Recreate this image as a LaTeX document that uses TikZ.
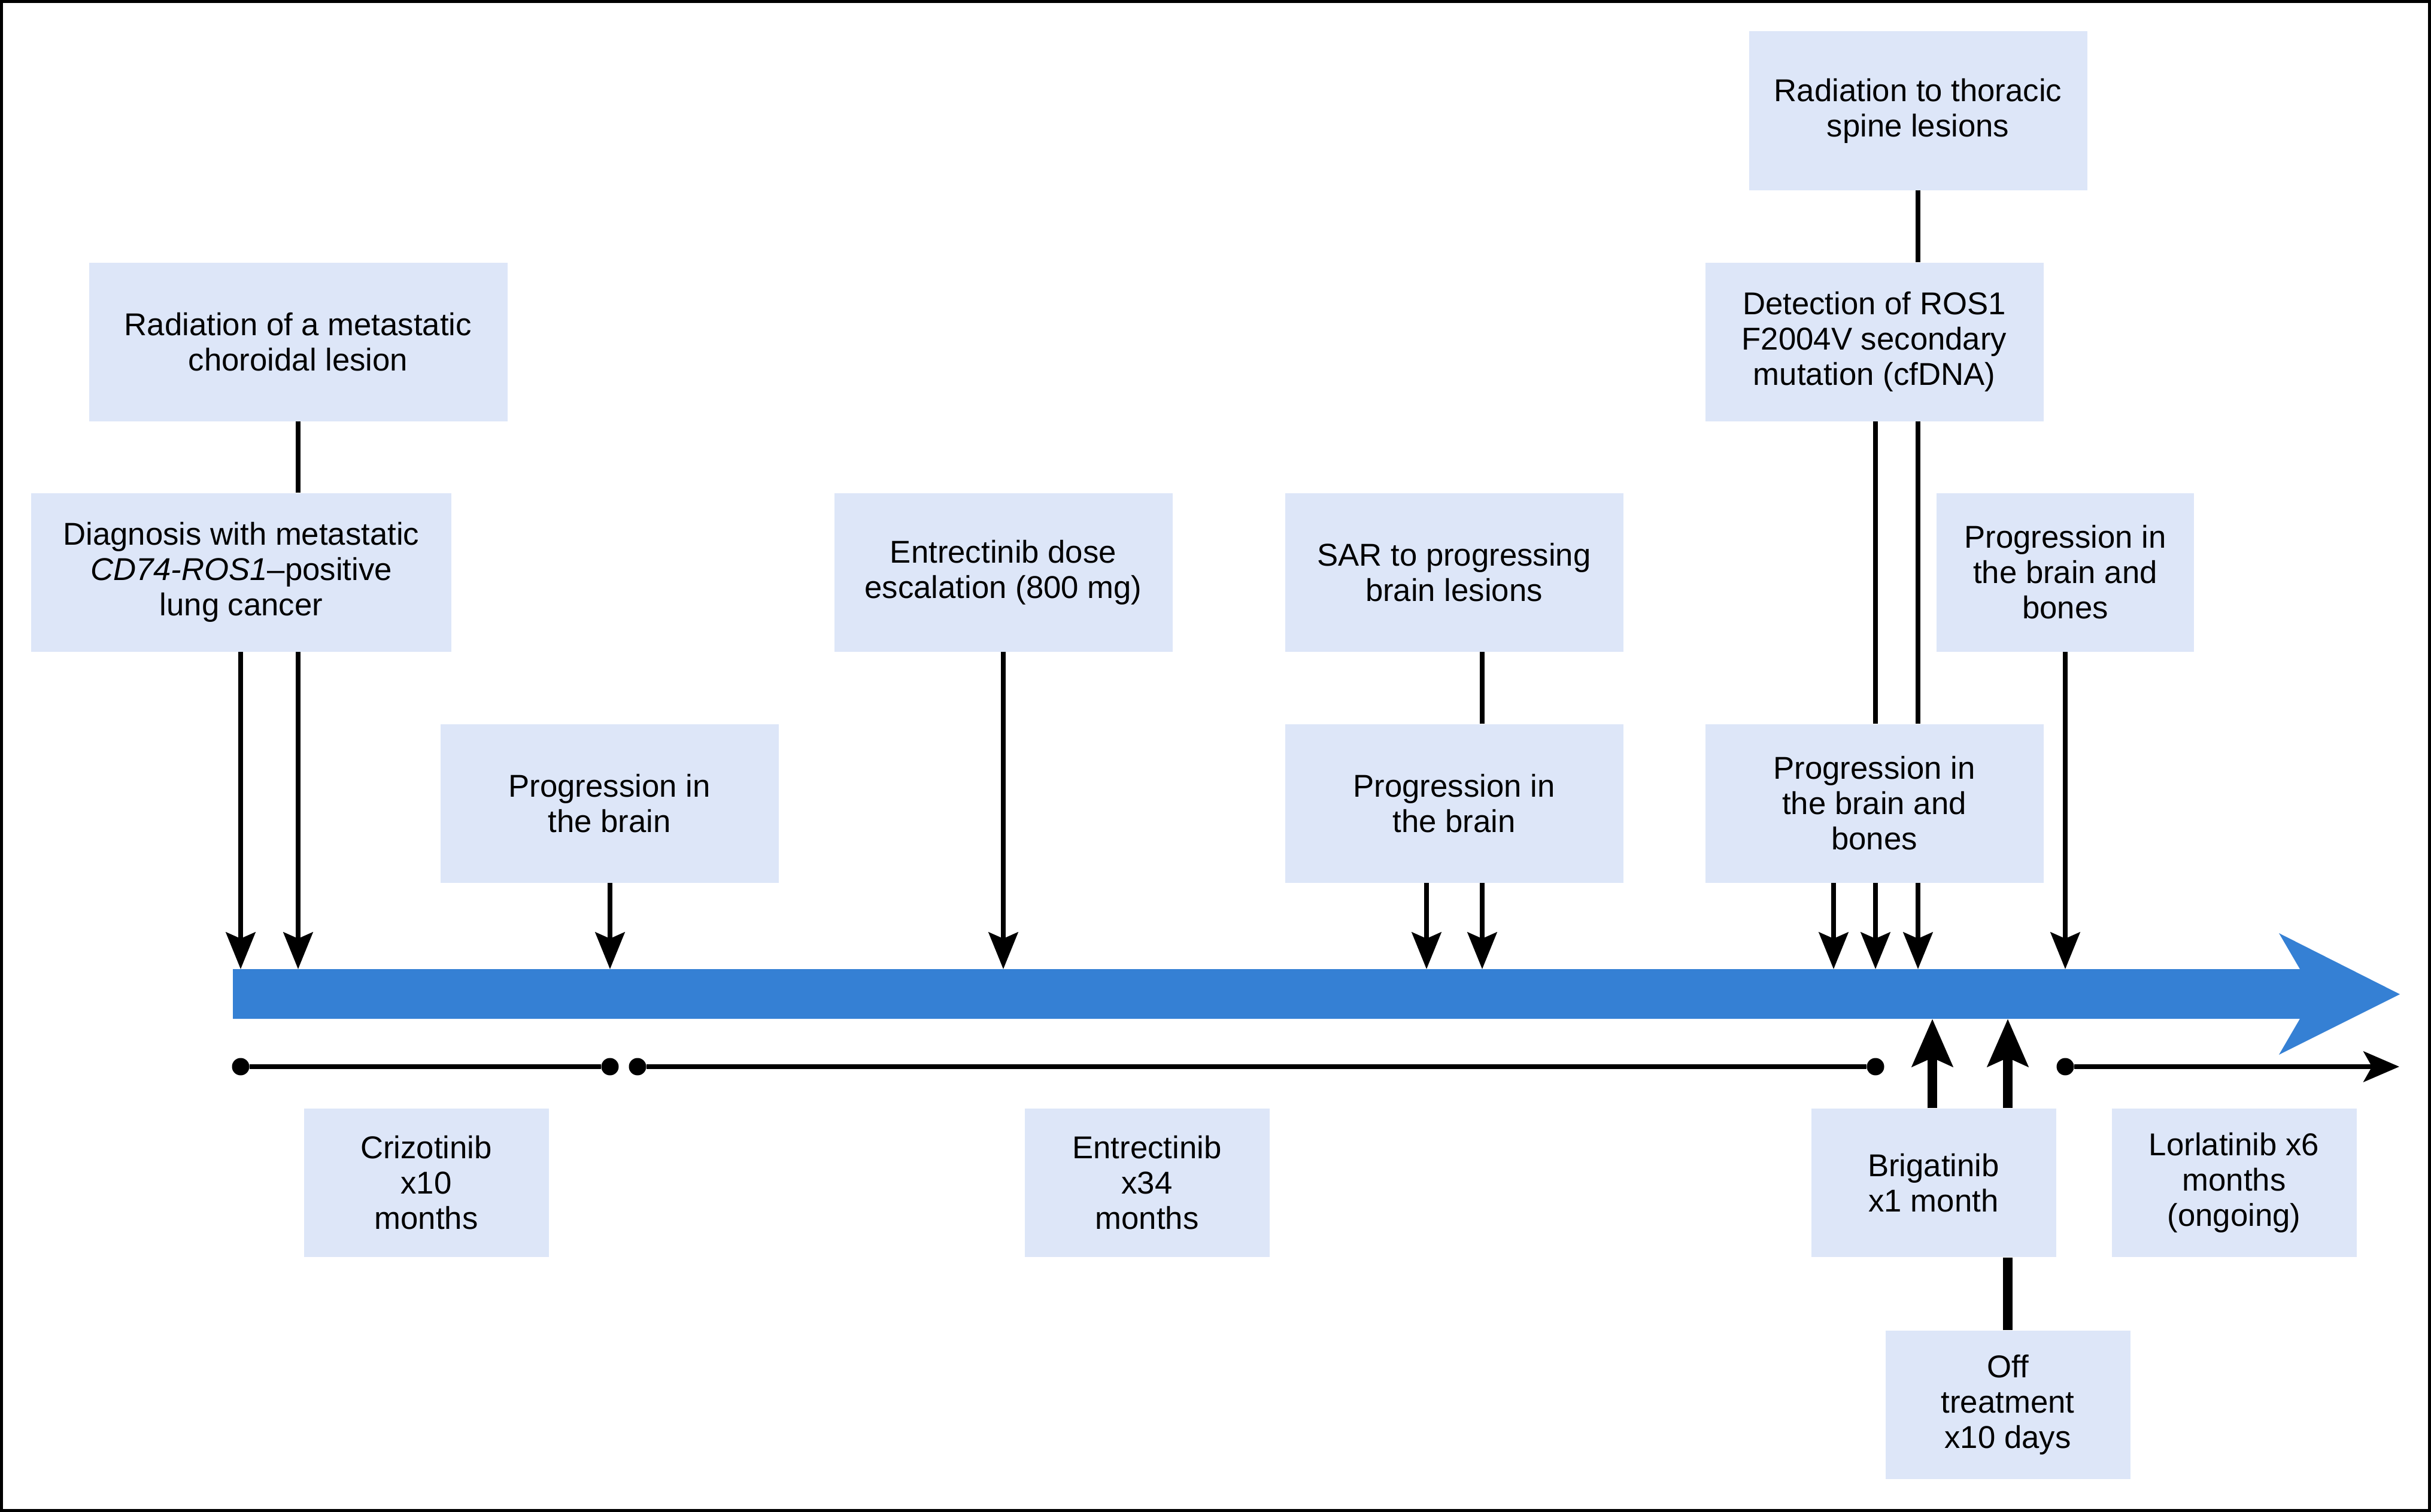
\documentclass[tikz,border=0pt]{standalone}
\usepackage{fontspec}
\setmainfont{Liberation Sans}
\usetikzlibrary{positioning}
\usetikzlibrary{arrows.meta}
\definecolor{boxblue}{RGB}{221,230,248}
\definecolor{barblue}{RGB}{53,128,212}
\tikzset{
    evnode/.style = {rectangle, fill=boxblue, align=center, inner sep=0pt, minimum width=5.65cm, minimum height=2.65cm, font=\fontsize{15}{16.8}\selectfont},
    rxnode/.style = {evnode, minimum width=4.09cm, minimum height=2.48cm},
    dotn/.style = {circle, fill=black, inner sep=0pt, minimum size=0.29cm},
    edgel/.style = {line width=2.1pt},
    edged/.style = {-{Stealth[length=17.5pt,width=14pt,inset=3pt]},line width=2.1pt},
    edgeu/.style = {-{Stealth[length=22.5pt,width=19pt,inset=4pt]},line width=4.8pt},
    edgeub/.style = {line width=4.8pt},
    spann/.style = {line width=2.3pt},
    spanr/.style = {-{Stealth[length=17pt,width=14.5pt,inset=4pt]},line width=2.3pt}
}
\begin{document}
\begin{tikzpicture}[x=1cm,y=-1cm]
\useasboundingbox (0,0) rectangle (40.61,25.26);
\draw[line width=0.05cm] (0.025,0.025) rectangle (40.585,25.235);
%
% time bar
\fill[barblue] (3.89,16.19) -- (38.42,16.19) -- (38.07,15.59) -- (40.09,16.61)
    -- (38.07,17.62) -- (38.42,17.02) -- (3.89,17.02) -- cycle;
%
% events
\node[evnode, minimum width=6.99cm] (rad) at (4.98,5.71) {Radiation of a metastatic\\choroidal lesion};
\node[evnode, minimum width=7.02cm] (diag) at (4.03,9.56) {Diagnosis with metastatic\\\textit{CD74-ROS1}--positive\\lung cancer};
\node[evnode] (brain1) at (10.18,13.42) {Progression in\\the brain};
\node[evnode] (dose) at (16.76,9.56) {Entrectinib dose\\escalation (800 mg)};
\node[evnode] (sar) at (24.29,9.56) {SAR to progressing\\brain lesions};
\node[evnode] (brain2) at (24.29,13.42) {Progression in\\the brain};
\node[evnode] (spine) at (32.04,1.85) {Radiation to thoracic\\spine lesions};
\node[evnode] (ros) at (31.31,5.71) {Detection of ROS1\\F2004V secondary\\mutation (cfDNA)};
\node[evnode] (bones1) at (31.31,13.42) {Progression in\\the brain and\\bones};
\node[evnode, minimum width=4.30cm] (bones2) at (34.50,9.56) {Progression in\\the brain and\\bones};
%
% treatments
\node[rxnode] (criz) at (7.12,19.76) {Crizotinib\\x10\\months};
\node[rxnode] (entr) at (19.16,19.76) {Entrectinib\\x34\\months};
\node[rxnode] (brig) at (32.30,19.76) {Brigatinib\\x1 month};
\node[rxnode] (lorl) at (37.32,19.76) {Lorlatinib x6\\months\\(ongoing)};
\node[rxnode] (off) at (33.54,23.47) {Off\\treatment\\x10 days};
%
% points on the bar
\coordinate (t1) at (4.02,16.19);
\coordinate (t2) at (4.98,16.19);
\coordinate (t3) at (10.19,16.19);
\coordinate (t4) at (16.76,16.19);
\coordinate (t5) at (23.83,16.19);
\coordinate (t6) at (24.76,16.19);
\coordinate (t7) at (30.63,16.19);
\coordinate (t8) at (31.33,16.19);
\coordinate (t9) at (32.04,16.19);
\coordinate (t10) at (34.50,16.19);
\coordinate (u1) at (32.28,17.02);
\coordinate (u2) at (33.54,17.02);
%
\draw[edged] (diag.south -| t1) -- (t1);
\draw[edgel] (rad.south -| t2) -- (diag.north -| t2);
\draw[edged] (diag.south -| t2) -- (t2);
\draw[edged] (brain1.south -| t3) -- (t3);
\draw[edged] (dose.south -| t4) -- (t4);
\draw[edged] (brain2.south -| t5) -- (t5);
\draw[edgel] (sar.south -| t6) -- (brain2.north -| t6);
\draw[edged] (brain2.south -| t6) -- (t6);
\draw[edged] (bones1.south -| t7) -- (t7);
\draw[edgel] (ros.south -| t8) -- (bones1.north -| t8);
\draw[edged] (bones1.south -| t8) -- (t8);
\draw[edgel] (spine.south -| t9) -- (ros.north -| t9);
\draw[edgel] (ros.south -| t9) -- (bones1.north -| t9);
\draw[edged] (bones1.south -| t9) -- (t9);
\draw[edged] (bones2.south -| t10) -- (t10);
%
\draw[edgeu] (brig.north -| u1) -- (u1);
\draw[edgeub] (off.north) -- (brig.south -| u2);
\draw[edgeu] (brig.north -| u2) -- (u2);
%
% treatment spans
\node[dotn] (c0) at (4.02,17.82) {};
\node[dotn] (c1) at (10.19,17.82) {};
\node[dotn] (e0) at (10.65,17.82) {};
\node[dotn] (e1) at (31.33,17.82) {};
\node[dotn] (l0) at (34.50,17.82) {};
\coordinate (l1) at (40.08,17.82);
\draw[spann] (c0) -- (c1);
\draw[spann] (e0) -- (e1);
\draw[spanr] (l0) -- (l1);

\end{tikzpicture}
\end{document}
